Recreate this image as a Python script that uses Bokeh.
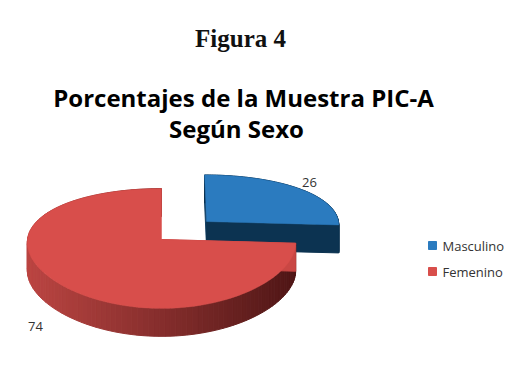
import numpy as np
from bokeh.plotting import figure
from bokeh.models import Range1d
from bokeh.embed import file_html
from bokeh.resources import INLINE
from bokeh.core.properties import value

# ---- data ----
categories = ["Masculino", "Femenino"]
values = [26, 74]
labels = ["26", "74"]
top_colors = ["#2b7bbf", "#d84e4b"]

# ---- style / layout constants ----
W, H = 528, 376
CX, CY = 161.0, 239.0          # screen position of pie centre
RX = 134.0                     # horizontal radius (px)
F, D = 804.0, 6.0              # perspective focal length / camera distance
PHI = np.radians(25.9)         # elevation angle
XPERSP = 0.35                  # strength of horizontal perspective
DEPTH = 28.0                   # extrusion (px)
EXPLODE = [0.47, 0.0]
LABEL_POS = [(309, 182), (35, 326)]
LEGEND_X, LEGEND_Y0, LEGEND_DY = 432, 245, 26

SIN, COS = np.sin(PHI), np.cos(PHI)


def project(u, w):
    z = D - w * COS
    return CX + RX * u * (D / z) ** XPERSP, CY + F * w * SIN / z


def hex2rgb(h):
    h = h.lstrip("#")
    return np.array([int(h[i:i + 2], 16) for i in (0, 2, 4)], float)


def rgb2hex(c):
    return "#%02x%02x%02x" % tuple(int(round(v)) for v in c)


p = figure(width=W, height=H, output_backend="svg", toolbar_location=None,
           x_range=Range1d(0, W), y_range=Range1d(H, 0), min_border=0)
p.axis.visible = False
p.grid.visible = False
p.outline_line_color = None
p.background_fill_color = "white"
p.border_fill_color = "white"

total = float(sum(values))
bounds = np.concatenate([[0], np.cumsum(values) / total * 360.0])

slices = []
for i in range(len(values)):
    a0, a1 = bounds[i], bounds[i + 1]
    mid = np.radians((a0 + a1) / 2)
    ou, ow = EXPLODE[i] * np.sin(mid), -EXPLODE[i] * np.cos(mid)
    th = np.radians(np.linspace(a0, a1, 120))
    u = ou + np.sin(th)
    w = ow - np.cos(th)
    ex, ey = project(u, w)
    cx, cy = project(ou, ow)
    slices.append(dict(a0=a0, a1=a1, th=th, ex=ex, ey=ey, cx=cx, cy=cy))


def draw_side_strips(s, color_fn):
    ex, ey = s["ex"], s["ey"]
    xs, ys, cols = [], [], []
    for k in range(len(ex) - 1):
        xs.append([ex[k], ex[k + 1], ex[k + 1], ex[k]])
        ys.append([ey[k], ey[k + 1], ey[k + 1] + DEPTH, ey[k] + DEPTH])
        cols.append(color_fn((ex[k] + ex[k + 1]) / 2))
    p.patches(xs, ys, fill_color=cols, line_color=cols, line_width=1)


def draw_radial(s, end, color):
    k = 0 if end == 0 else -1
    ex, ey, cx, cy = s["ex"][k], s["ey"][k], s["cx"], s["cy"]
    p.patch([cx, ex, ex, cx], [cy, ey, ey + DEPTH, cy + DEPTH],
            fill_color=color, line_color=color, line_width=1)


def draw_top(s, color):
    xs = np.concatenate([[s["cx"]], s["ex"]])
    ys = np.concatenate([[s["cy"]], s["ey"]])
    p.patch(xs, ys, fill_color=color, line_color=color, line_width=0.5)


# blue slice (behind)
b = slices[0]
draw_radial(b, 0, "#123f63")
draw_side_strips(b, lambda x: "#0b2f4c")
draw_radial(b, 1, "#0c3351")
draw_top(b, top_colors[0])

# red slice (front) with shaded side
r = slices[1]
light, dark = hex2rgb("#bb4542"), hex2rgb("#4f1616")
xmin, xmax = r["ex"].min(), r["ex"].max()


def red_col(x):
    t = np.clip((x - xmin) / (xmax - xmin), 0, 1)
    return rgb2hex(light + (dark - light) * t)


draw_side_strips(r, red_col)
draw_radial(r, 0, "#c94744")
draw_top(r, top_colors[1])

# data labels
p.text(x=[q[0] for q in LABEL_POS], y=[q[1] for q in LABEL_POS], text=labels,
       text_align="center", text_baseline="alphabetic", text_font=value("Open Sans"),
       text_font_size="13px", text_color="#333333")

# legend
ly = [LEGEND_Y0 + i * LEGEND_DY for i in range(len(categories))]
p.scatter(x=[LEGEND_X] * len(categories), y=ly, marker="square", size=8,
          fill_color=top_colors, line_color=top_colors)
p.text(x=[LEGEND_X + 10] * len(categories), y=ly, text=categories,
       text_align="left", text_baseline="middle", text_font=value("Open Sans"),
       text_font_size="13px", text_color="#333333")

# titles
p.text(x=[240], y=[38], text=["Figura 4"], text_align="center",
       text_baseline="alphabetic", text_font=value("Liberation Serif"),
       text_font_style="bold", text_font_size="25px", text_color="#111111")
p.text(x=[243, 236], y=[97, 128],
       text=["Porcentajes de la Muestra PIC-A", "Según Sexo"],
       text_align="center", text_baseline="alphabetic", text_font=value("Open Sans"),
       text_font_style="bold", text_font_size="24px", text_color="#000000")

open("out.html", "w").write(file_html(p, INLINE))
